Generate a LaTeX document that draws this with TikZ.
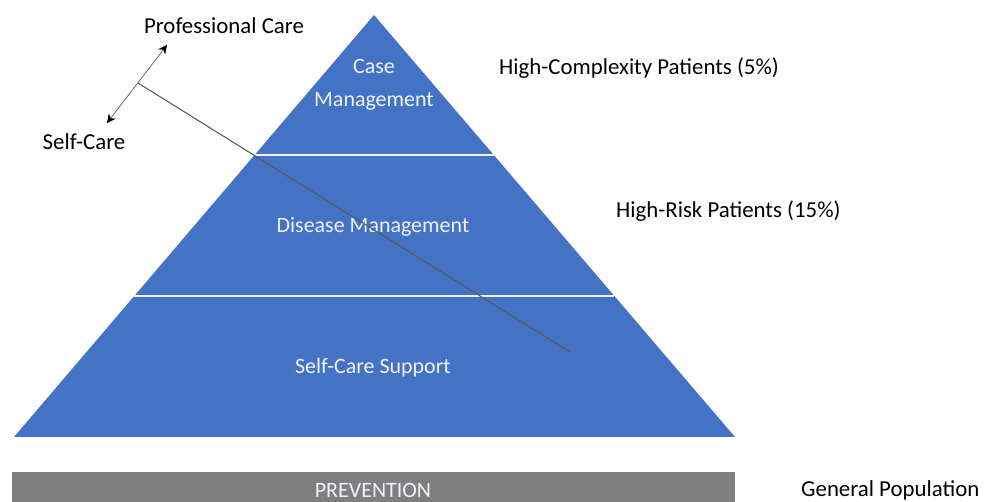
\documentclass[tikz,border=0pt]{standalone}
\usepackage{fontspec}
\setmainfont{Carlito}
\usetikzlibrary{arrows.meta}
\definecolor{pyrblue}{HTML}{4472C4}
\definecolor{prevgray}{HTML}{7F7F7F}
\definecolor{paletext}{HTML}{EEF2FA}
\begin{document}
\begin{tikzpicture}[x=0.02cm, y=-0.02cm,
	tier/.style={text=paletext, font=\fontsize{12.5}{19}\selectfont, align=center},
	side/.style={text=black, font=\fontsize{13}{15}\selectfont, anchor=west}]
	\useasboundingbox (0,0) rectangle (987,502);

	\fill [pyrblue] (14,437) -- (374,15) -- (735,437) -- cycle;
	\draw [paletext, line width=1.2pt] (255,155) -- (494,155);
	\draw [paletext, line width=1.2pt] (134,296) -- (614,296);

	\fill [prevgray] (12,472) rectangle (735,502);

	\node [tier] (case) at (374,85) {Case\\Management};
	\node [tier] (disease) at (373,227) {Disease Management};
	\node [tier] (support) at (373,368) {Self-Care Support};
	\node [tier] (prev) at (373,490) {PREVENTION};

	\node [side] (complex) at (493,68) {High-Complexity Patients (5\%)};
	\node [side] (risk) at (610,211) {High-Risk Patients (15\%)};
	\node [side] (general) at (795,490) {General Population};

	\node [side, anchor=center] (pro) at (224,26) {Professional Care};
	\node [side, anchor=center] (self) at (84,142) {Self-Care};

	\coordinate (up) at (167,45);
	\coordinate (down) at (107,123);
	\coordinate (mid) at (138,83);
	\coordinate (tip) at (570,352);
	\draw [gray!70!black, {Stealth[black,length=5pt,width=5pt]}-{Stealth[black,length=5pt,width=5pt]}] (down) -- (up);
	\draw [black!65, line width=0.6pt] (mid) -- (tip);
\end{tikzpicture}
\end{document}
